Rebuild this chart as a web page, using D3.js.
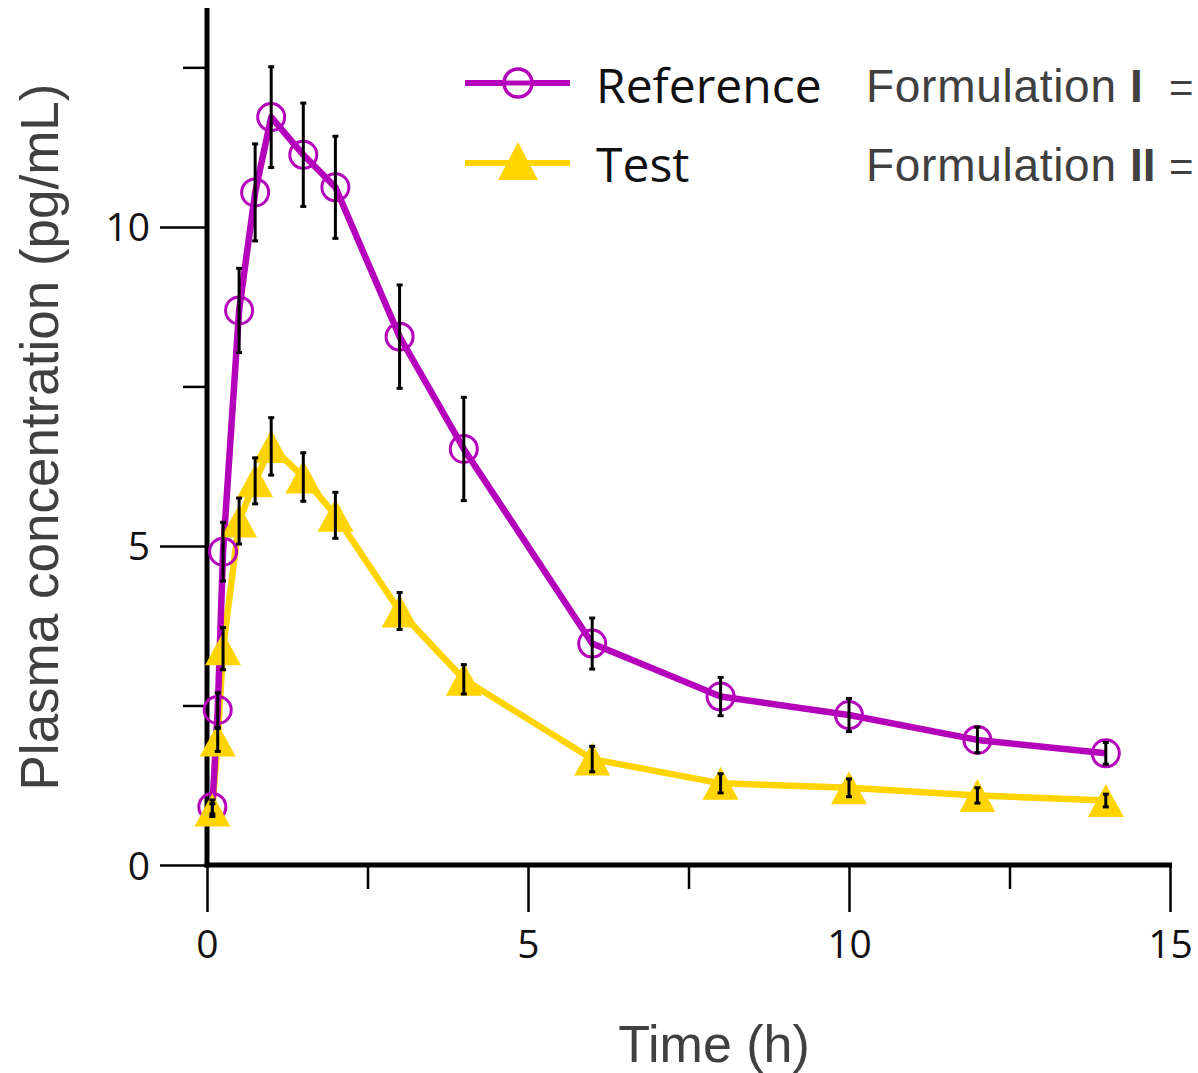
<!DOCTYPE html>
<html>
<head>
<meta charset="utf-8">
<script src="https://cdn.jsdelivr.net/npm/d3@7"></script>
<style>
  html, body { margin: 0; padding: 0; background: #fff; }
  svg { display: block; }
</style>
</head>
<body>
<svg id="chart" width="1198" height="1073"></svg>
<script>
// ---- data ----
const times = [0.083, 0.167, 0.25, 0.5, 0.75, 1, 1.5, 2, 3, 4, 6, 8, 10, 12, 14];
const refMean = [0.91, 2.43, 4.91, 8.69, 10.54, 11.72, 11.13, 10.62, 8.28, 6.52, 3.47, 2.64, 2.35, 1.96, 1.75];
const refSD   = [0.11, 0.27, 0.46, 0.66, 0.76, 0.79, 0.81, 0.80, 0.81, 0.81, 0.40, 0.30, 0.26, 0.20, 0.17];
const testMean = [0.86, 1.96, 3.39, 5.39, 6.02, 6.56, 6.08, 5.48, 3.98, 2.91, 1.66, 1.28, 1.21, 1.09, 1.01];
const testSD   = [0.10, 0.18, 0.33, 0.36, 0.36, 0.45, 0.38, 0.36, 0.29, 0.23, 0.20, 0.15, 0.14, 0.12, 0.10];
const xMajorTicks = [0, 5, 10, 15];
const xMinorTicks = [2.5, 7.5, 12.5];
const yMajorTicks = [0, 5, 10];
const yMinorTicks = [2.5, 7.5, 12.5];
const seriesNames = ["Reference", "Test"];
const formulationLabels = ["I", "II"];
const xTitle = "Time (h)";
const yTitle = "Plasma concentration (pg/mL)";

const PURPLE = "#b400ba";
const GOLD = "#ffd400";
const GRAY = "#404040";

const svg = d3.select("#chart");
const x = d3.scaleLinear().domain([0, 15]).range([207, 1170]);
const y = d3.scaleLinear().domain([0, 13.43]).range([865, 8]);

// ---- axes ----
const yMajor = d3.axisLeft(y).tickValues(yMajorTicks).tickSize(47).tickPadding(10).tickFormat(d3.format("d"));
const yMinor = d3.axisLeft(y).tickValues(yMinorTicks).tickSize(24).tickFormat("");
const xMajor = d3.axisBottom(x).tickValues(xMajorTicks).tickSize(47).tickPadding(18).tickFormat(d3.format("d"));
const xMinor = d3.axisBottom(x).tickValues(xMinorTicks).tickSize(24).tickFormat("");

function styleAxis(g) {
  g.select(".domain").remove();
  g.selectAll(".tick line").attr("stroke", "#000").attr("stroke-width", 2.5);
  g.selectAll(".tick text")
    .attr("font-family", "'Open Sans', sans-serif")
    .attr("font-size", 39)
    .attr("fill", "#111");
}
svg.append("g").attr("transform", `translate(${x(0)},0)`).call(yMajor).call(styleAxis)
  .selectAll(".tick text").attr("dy", "0.36em");
svg.append("g").attr("transform", `translate(${x(0)},0)`).call(yMinor).call(styleAxis);
svg.append("g").attr("transform", `translate(0,${y(0)})`).call(xMajor).call(styleAxis);
svg.append("g").attr("transform", `translate(0,${y(0)})`).call(xMinor).call(styleAxis);

// thick axis lines
svg.append("line").attr("x1", x(0)).attr("x2", x(0)).attr("y1", y(13.43)).attr("y2", y(0) + 2.5)
  .attr("stroke", "#000").attr("stroke-width", 5);
svg.append("line").attr("x1", x(0) - 2.5).attr("x2", x(15) + 2).attr("y1", y(0)).attr("y2", y(0))
  .attr("stroke", "#000").attr("stroke-width", 5);

// axis titles
svg.append("text").attr("x", 714).attr("y", 1062).attr("text-anchor", "middle")
  .attr("font-family", "'Liberation Sans', Arial, sans-serif").attr("font-size", 52)
  .attr("fill", GRAY).text(xTitle);
svg.append("text").attr("transform", "translate(58,437) rotate(-90)").attr("text-anchor", "middle")
  .attr("font-family", "'Liberation Sans', Arial, sans-serif").attr("font-size", 53)
  .attr("fill", GRAY).text(yTitle);

// ---- series ----
const refData = times.map((t, i) => ({ t, v: refMean[i], sd: refSD[i] }));
const testData = times.map((t, i) => ({ t, v: testMean[i], sd: testSD[i] }));
const line = d3.line().x(d => x(d.t)).y(d => y(d.v));

const triW = 36, triH = 33;
function triPath(cx, cy, w, h) {
  return `M${cx},${cy - h / 2}L${cx + w / 2},${cy + h / 2}L${cx - w / 2},${cy + h / 2}Z`;
}

svg.append("path").datum(testData).attr("d", line)
  .attr("fill", "none").attr("stroke", GOLD).attr("stroke-width", 6.5).attr("stroke-linejoin", "round");
svg.append("path").datum(refData).attr("d", line)
  .attr("fill", "none").attr("stroke", PURPLE).attr("stroke-width", 6.5).attr("stroke-linejoin", "round");

svg.append("g").selectAll("circle").data(refData).join("circle")
  .attr("cx", d => x(d.t)).attr("cy", d => y(d.v)).attr("r", 13.5)
  .attr("fill", "none").attr("stroke", PURPLE).attr("stroke-width", 3);

svg.append("g").selectAll("path").data(testData).join("path")
  .attr("d", d => triPath(x(d.t), y(d.v), triW, triH)).attr("fill", GOLD);

// error bars
function errorBars(data) {
  const g = svg.append("g").attr("stroke", "#000").attr("stroke-width", 3);
  data.forEach(d => {
    const cx = x(d.t), y1 = y(d.v - d.sd), y2 = y(d.v + d.sd);
    g.append("line").attr("x1", cx).attr("x2", cx).attr("y1", y1).attr("y2", y2);
    g.append("line").attr("x1", cx - 3).attr("x2", cx + 3).attr("y1", y1).attr("y2", y1);
    g.append("line").attr("x1", cx - 3).attr("x2", cx + 3).attr("y1", y2).attr("y2", y2);
  });
}
errorBars(testData);
errorBars(refData);

// ---- legend ----
const leg = svg.append("g");
leg.append("line").attr("x1", 465).attr("x2", 570).attr("y1", 83).attr("y2", 83)
  .attr("stroke", PURPLE).attr("stroke-width", 6);
leg.append("circle").attr("cx", 518).attr("cy", 83).attr("r", 14)
  .attr("fill", "#fff").attr("stroke", PURPLE).attr("stroke-width", 3.5);
leg.append("line").attr("x1", 518 - 14).attr("x2", 518 + 14).attr("y1", 83).attr("y2", 83)
  .attr("stroke", PURPLE).attr("stroke-width", 5);
leg.append("line").attr("x1", 465).attr("x2", 570).attr("y1", 163).attr("y2", 163)
  .attr("stroke", GOLD).attr("stroke-width", 6);
leg.append("path").attr("d", triPath(518, 161, 40, 38)).attr("fill", GOLD);

[103, 182].forEach((by, i) => {
  leg.append("text").attr("x", 596).attr("y", by)
    .attr("font-family", "'Open Sans', sans-serif").attr("font-size", 48).attr("fill", "#111")
    .text(seriesNames[i]);
  const t = leg.append("text").attr("y", by - 1)
    .attr("font-family", "'Liberation Sans', Arial, sans-serif").attr("font-size", 46).attr("fill", GRAY);
  t.append("tspan").attr("x", 866).attr("textLength", 250).attr("lengthAdjust", "spacing").text("Formulation");
  t.append("tspan").attr("x", 1130).attr("font-weight", "bold").text(formulationLabels[i]);
  t.append("tspan").attr("x", 1169).attr("font-size", 42).text("=");
});
</script>
</body>
</html>
